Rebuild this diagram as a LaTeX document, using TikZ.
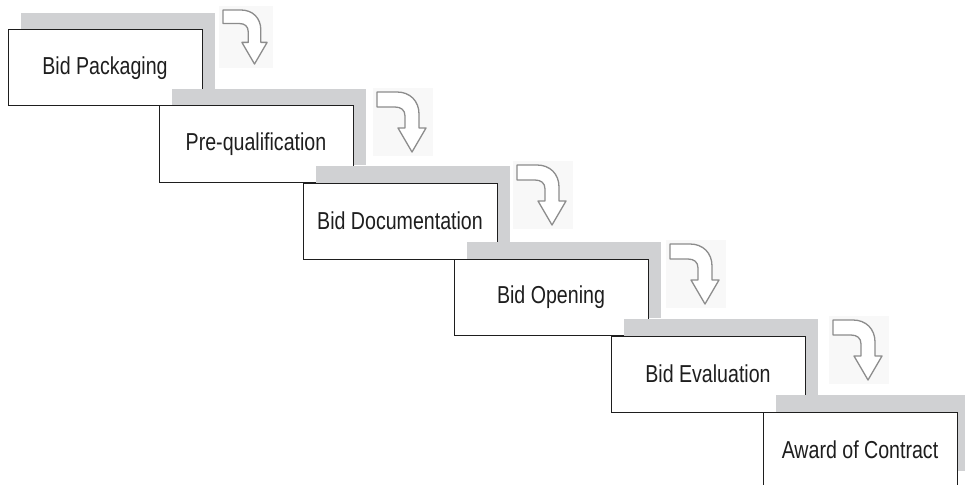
\documentclass[tikz,border=0pt]{standalone}
\usepackage{fontspec}
\setmainfont{Liberation Sans}[FakeStretch=0.8]
\definecolor{shadowgray}{RGB}{208,209,211}
\definecolor{arrowgray}{RGB}{140,140,140}
\definecolor{faintbg}{RGB}{248,248,248}
\definecolor{inkcol}{RGB}{30,30,30}
\begin{document}
\begin{tikzpicture}[x=1pt,y=-1pt,
  stepbox/.style={draw=inkcol, line width=1pt, fill=white,
    minimum width=194pt, minimum height=76pt, inner sep=0pt, outer sep=0pt,
    anchor=north west, font=\fontsize{24.5}{28}\selectfont, text=inkcol},
  shade/.style={fill=shadowgray},
  downturn/.pic={
    \fill[faintbg] (-4,-4) rectangle (56,64);
    \draw[draw=arrowgray, line width=1.3pt, fill=white, line join=round]
      (0,0) -- (20,0) .. controls (33,0) and (42,9) .. (42,22) -- (42,36)
      -- (49,36) -- (35,60) -- (21,36) -- (28,36) -- (28,24)
      .. controls (28,18) and (24,15) .. (18,15) -- (0,15) -- cycle;
  }
]
\useasboundingbox (0,0) rectangle (965,484);

% step 1
\fill[shade] (21,13) rectangle ++(194,76);
\node[stepbox] (s1) at (8,30) {Bid Packaging};
% step 2
\fill[shade] (172,89) rectangle ++(194,76);
\node[stepbox] (s2) at (159,106) {Pre-qualification};
% step 3
\fill[shade] (316,166) rectangle ++(194,76);
\node[stepbox] (s3) at (303,183) {Bid Documentation};
% step 4
\fill[shade] (467,242) rectangle ++(194,76);
\node[stepbox] (s4) at (454,259) {Bid Opening};
% step 5
\fill[shade] (624,319) rectangle ++(194,76);
\node[stepbox] (s5) at (611,336) {Bid Evaluation};
% step 6
\fill[shade] (776,395) rectangle ++(194,76);
\node[stepbox] (s6) at (763,412) {Award of Contract};

% turn arrows
\pic[scale=0.9] (a1) at (223,10) {downturn};
\pic (a2) at (377,92) {downturn};
\pic (a3) at (517,165) {downturn};
\pic (a4) at (670,244) {downturn};
\pic (a5) at (833,320) {downturn};
\end{tikzpicture}
\end{document}
